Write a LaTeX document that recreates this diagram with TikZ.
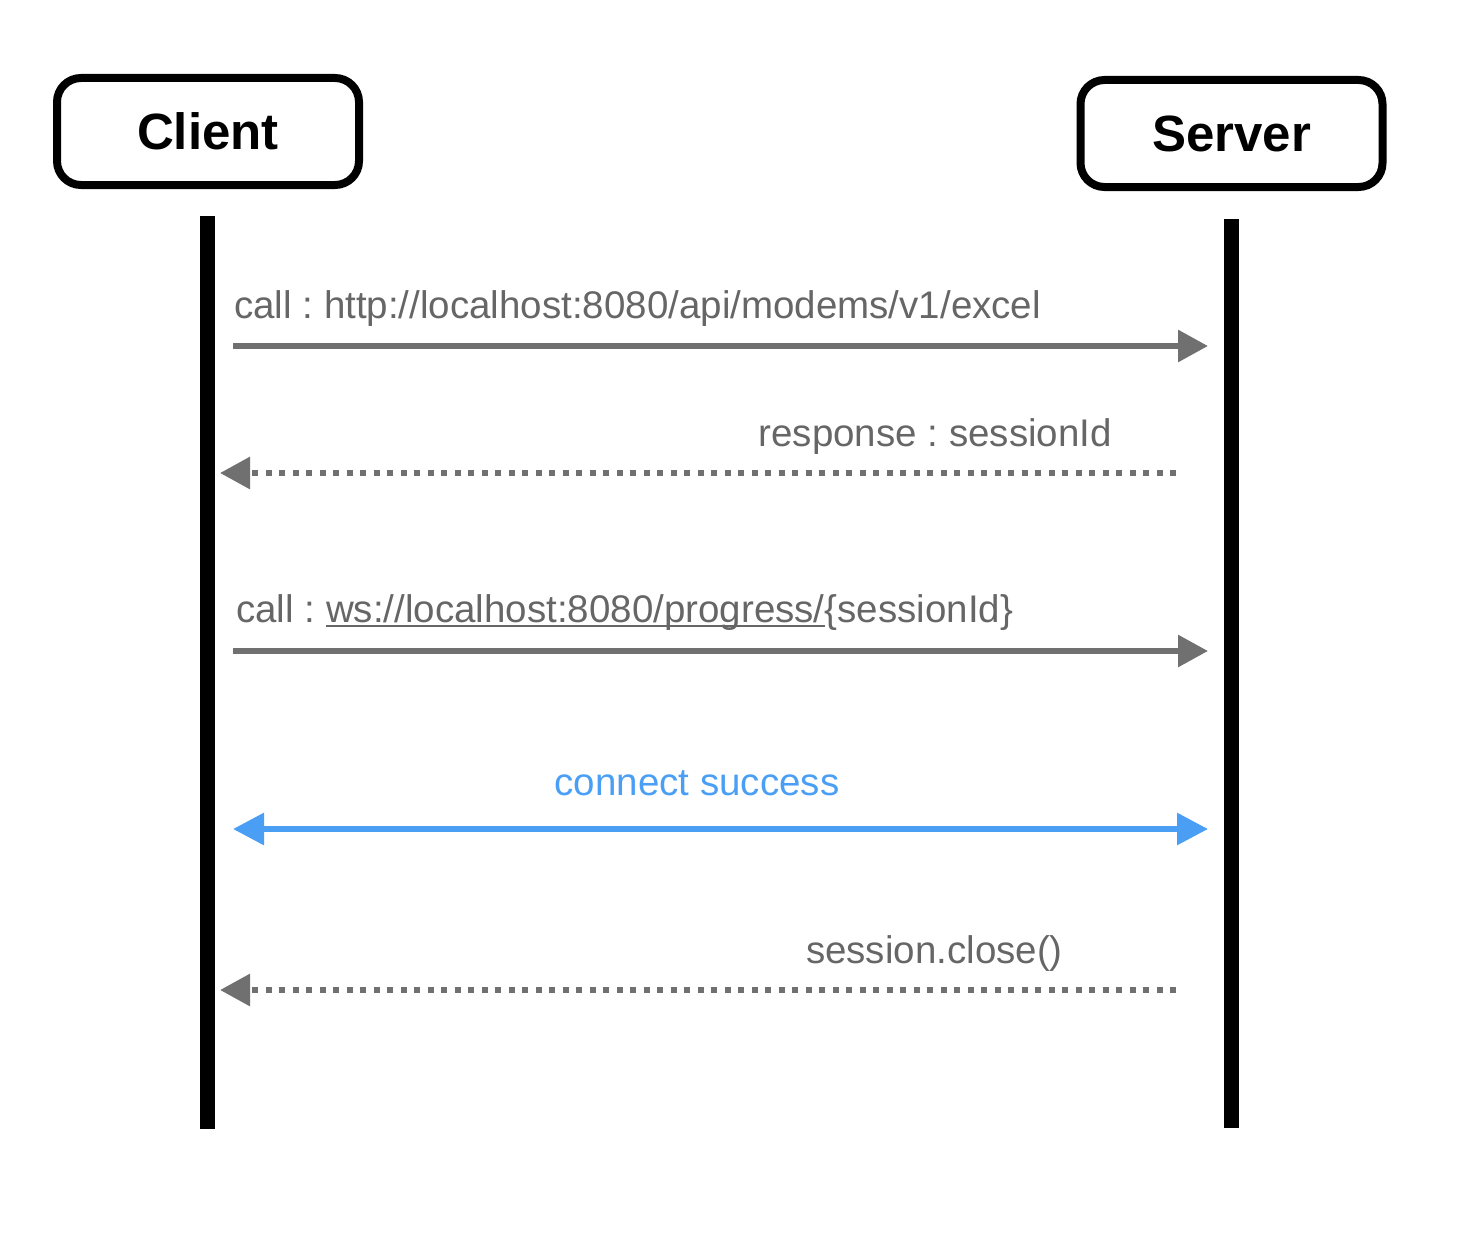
\documentclass[tikz,border=0pt]{standalone}
\usepackage{fontspec}
\setmainfont{Liberation Sans}
\usetikzlibrary{arrows.meta}
\definecolor{msggray}{HTML}{707070}
\definecolor{txtgray}{HTML}{666666}
\definecolor{okblue}{HTML}{4A9FF5}
\frenchspacing
\newcommand\ulx[1]{\setbox0\hbox{#1}\rlap{\rule[-4.5pt]{\wd0}{2pt}}\box0}
\tikzset{
  actor/.style={draw=black, line width=8pt, rounded corners=24pt,
    minimum width=302pt, minimum height=107pt, inner sep=0pt,
    font=\fontsize{51}{60}\selectfont\bfseries},
  lifeline/.style={line width=15pt, black},
  msg/.style={msggray, line width=6pt, -{Triangle[length=30pt,width=31pt]}},
  reply/.style={msg, dash pattern=on 6pt off 7.5pt},
  both/.style={okblue, line width=6pt, {Triangle[length=31pt,width=31pt]}-{Triangle[length=31pt,width=31pt]}},
  lbl/.style={text=txtgray, font=\fontsize{38.5}{44}\selectfont, inner sep=0pt},
}
\begin{document}
\begin{tikzpicture}[x=1pt,y=-1pt]
\useasboundingbox (0,0) rectangle (1466,1236);
\node[actor] (client) at (208,131.5) {Client};
\node[actor] (server) at (1231.5,133.5) {Server};

\coordinate (ctop) at (207.5,216);
\coordinate (cbot) at (207.5,1129);
\coordinate (stop) at (1231.5,219);
\coordinate (sbot) at (1231.5,1128);
\draw[lifeline] (ctop) -- (cbot);
\draw[lifeline] (stop) -- (sbot);

\coordinate (m1s) at (233,346);  \coordinate (m1e) at (1208,346);
\coordinate (m2s) at (1176,473); \coordinate (m2e) at (220,473);
\coordinate (m3s) at (233,651);  \coordinate (m3e) at (1208,651);
\coordinate (m4s) at (233,829);  \coordinate (m4e) at (1208,829);
\coordinate (m5s) at (1176,990); \coordinate (m5e) at (220,990);

\draw[msg] (m1s) -- (m1e);
\draw[reply] (m2s) -- (m2e);
\draw[msg] (m3s) -- (m3e);
\draw[both] (m4s) -- (m4e);
\draw[reply] (m5s) -- (m5e);

\node[lbl, anchor=base west] (l1) at (234,318) {call : http://localhost:8080/api/modems/v1/excel};
\node[lbl, anchor=base east] (l2) at (1112,446) {response : sessionId};
\node[lbl, anchor=base west] (l3) at (236,622) {call : \ulx{ws://localhost:8080/progress/}\{sessionId\}};
\node[lbl, anchor=base, text=okblue] (l4) at (697,795) {connect success};
\node[lbl, anchor=base east] (l5) at (1063,963) {session.close()};
\end{tikzpicture}
\end{document}
